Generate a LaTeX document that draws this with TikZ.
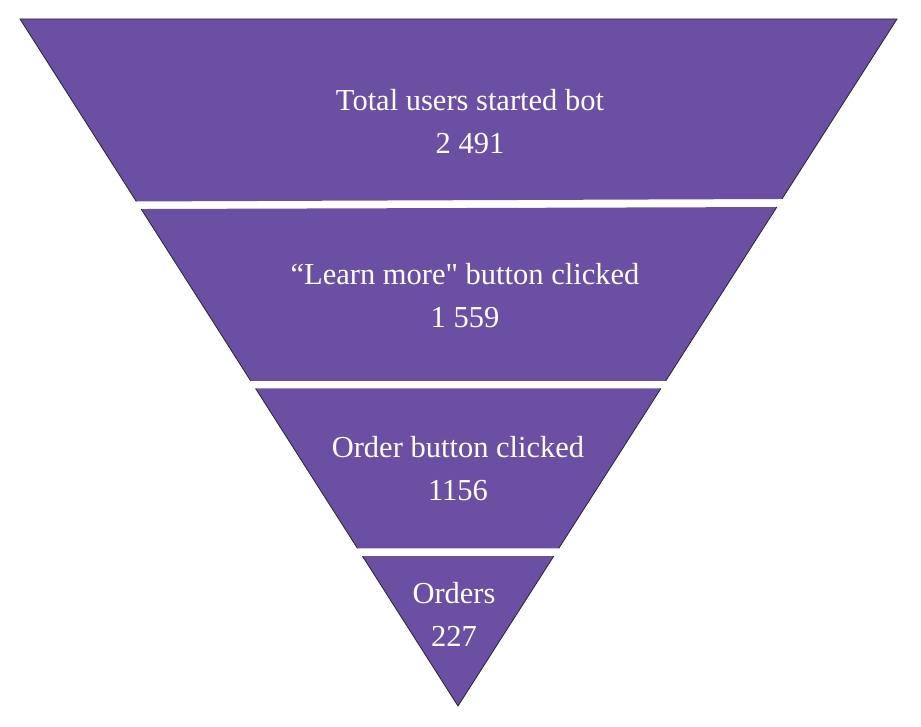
\documentclass[tikz,border=0pt]{standalone}
\usepackage{fontspec}
\setmainfont{Liberation Serif}[Ligatures=TeXOff]
\usepackage{xcolor}
\usetikzlibrary{calc}

\definecolor{funnelpurple}{RGB}{106,79,163}
\definecolor{funneledge}{RGB}{40,36,48}

\begin{document}
\begin{tikzpicture}[
    x=1pt, y=-1pt,
    segment/.style={fill=funnelpurple},
    edge/.style={draw=funneledge, line width=0.8pt},
    label/.style={text=white, align=center, font=\fontsize{30.5}{43}\selectfont}
]
\useasboundingbox (0,0) rectangle (921,727);

% Funnel outline
\coordinate (tl) at (20,19);
\coordinate (tr) at (897,19);
\coordinate (apex) at (458,706);

% Stage 1
\fill[segment] (tl) -- (tr) -- ($(tr)!0.2620!(apex)$) -- ($(tl)!0.2656!(apex)$) -- cycle;
\draw[edge] ($(tl)!0.2656!(apex)$) -- (tl) -- (tr) -- ($(tr)!0.2620!(apex)$);

% Stage 2
\fill[segment] ($(tl)!0.2766!(apex)$) -- ($(tr)!0.2737!(apex)$) -- ($(tr)!0.5269!(apex)$) -- ($(tl)!0.5269!(apex)$) -- cycle;
\draw[edge] ($(tl)!0.2766!(apex)$) -- ($(tl)!0.5269!(apex)$);
\draw[edge] ($(tr)!0.2737!(apex)$) -- ($(tr)!0.5269!(apex)$);

% Stage 3
\fill[segment] ($(tl)!0.5378!(apex)$) -- ($(tr)!0.5378!(apex)$) -- ($(tr)!0.7705!(apex)$) -- ($(tl)!0.7705!(apex)$) -- cycle;
\draw[edge] ($(tl)!0.5378!(apex)$) -- ($(tl)!0.7705!(apex)$);
\draw[edge] ($(tr)!0.5378!(apex)$) -- ($(tr)!0.7705!(apex)$);

% Stage 4
\fill[segment] ($(tl)!0.7817!(apex)$) -- ($(tr)!0.7817!(apex)$) -- (apex) -- cycle;
\draw[edge] ($(tl)!0.7817!(apex)$) -- (apex) -- ($(tr)!0.7817!(apex)$);

% Labels
\node[label] (started) at (470,122) {Total users started bot\\2 491};
\node[label] (learn) at (465,296) {“Learn more" button clicked\\1 559};
\node[label] (order) at (458,469) {Order button clicked\\1156};
\node[label] (orders) at (454,614) {Orders\\227};

\end{tikzpicture}
\end{document}
